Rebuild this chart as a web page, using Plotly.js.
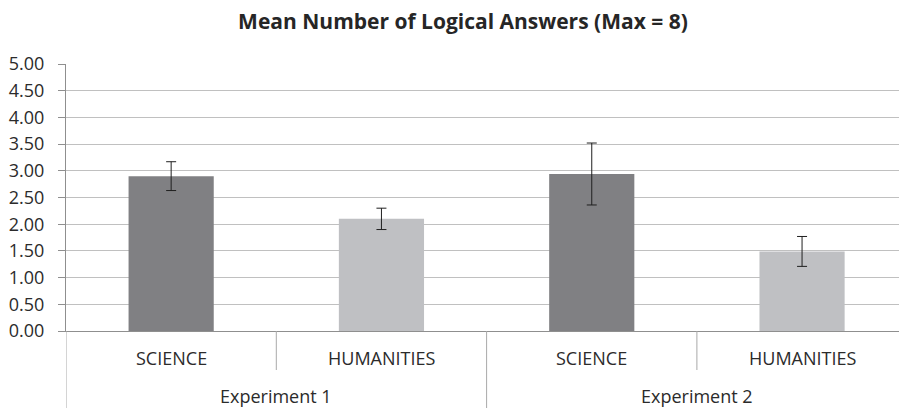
<!DOCTYPE html>
<html>
<head>
<meta charset="utf-8">
<script src="https://cdn.plot.ly/plotly-3.0.1.min.js"></script>
<style>html,body{margin:0;padding:0;background:#fff;overflow:hidden;}#chart{width:899px;height:408px;}</style>
</head>
<body>
<div id="chart"></div>
<script>
var experiments = ["Experiment 1", "Experiment 1", "Experiment 2", "Experiment 2"];
var groups = ["SCIENCE", "HUMANITIES", "SCIENCE", "HUMANITIES"];
var means = [2.90, 2.10, 2.94, 1.49];
var errors = [0.27, 0.20, 0.58, 0.28];
var barColors = ["#808083", "#bfc0c3", "#808083", "#bfc0c3"];
var yTicks = [0, 0.5, 1, 1.5, 2, 2.5, 3, 3.5, 4, 4.5, 5];
var yTickLabels = ["0.00","0.50","1.00","1.50","2.00","2.50","3.00","3.50","4.00","4.50","5.00"];

var xKeys = experiments.map(function (e, i) { return e + " | " + groups[i]; });

var trace = {
  type: "bar",
  x: xKeys,
  y: means,
  width: 0.405,
  marker: {color: barColors},
  error_y: {type: "data", array: errors, visible: true, color: "#1f1f1f", thickness: 1, width: 5},
  hoverinfo: "skip"
};

var FONT = "'Open Sans', 'Noto Sans', sans-serif";
var plotH = 267;
function py(px) { return -px / plotH; }

var annotations = [];
var shapes = [];
groups.forEach(function (g, i) {
  annotations.push({xref: "x", yref: "paper", x: i, y: py(26.5), text: g, showarrow: false,
    xanchor: "center", yanchor: "middle", font: {family: FONT, size: 18, color: "#2b2b2b"}});
});
var expNames = [];
experiments.forEach(function (e) { if (expNames.indexOf(e) < 0) expNames.push(e); });
expNames.forEach(function (e) {
  var idx = [];
  experiments.forEach(function (x, i) { if (x === e) idx.push(i); });
  var c = (idx[0] + idx[idx.length - 1]) / 2;
  annotations.push({xref: "x", yref: "paper", x: c, y: py(64.5), text: e, showarrow: false,
    xanchor: "center", yanchor: "middle", font: {family: FONT, size: 18, color: "#2b2b2b"}});
  shapes.push({type: "line", xref: "x", yref: "paper", x0: idx[0] - 0.5, x1: idx[0] - 0.5,
    y0: 0, y1: py(80), line: {color: "#a9a9a9", width: 1}});
});
for (var i = 1; i < experiments.length; i++) {
  if (experiments[i] === experiments[i - 1]) {
    shapes.push({type: "line", xref: "x", yref: "paper", x0: i - 0.5, x1: i - 0.5,
      y0: 0, y1: py(39), line: {color: "#a9a9a9", width: 1}});
  }
}

var layout = {
  width: 899, height: 408,
  margin: {l: 66, r: 0, t: 64, b: 77},
  paper_bgcolor: "#ffffff", plot_bgcolor: "#ffffff",
  font: {family: FONT, color: "#2b2b2b", size: 18},
  title: {text: "<b>Mean Number of Logical Answers (Max = 8)</b>", xref: "container", x: 0.515, xanchor: "center",
    yref: "container", y: 0.946, yanchor: "middle", font: {family: FONT, size: 21, color: "#262626"}},
  showlegend: false,
  xaxis: {
    type: "category",
    range: [-0.5, 3.461],
    showgrid: false,
    showline: true, linecolor: "#8f8f8f", linewidth: 1,
    showticklabels: false, ticks: ""
  },
  yaxis: {
    range: [0, 5], tickvals: yTicks, ticktext: yTickLabels,
    showgrid: true, gridcolor: "#c0c0c0", gridwidth: 1,
    showline: true, linecolor: "#8f8f8f", linewidth: 1,
    ticks: "outside", ticklen: 7, tickcolor: "#8f8f8f",
    ticklabelstandoff: 10,
    zeroline: false,
    tickfont: {family: FONT, size: 18, color: "#2b2b2b"}
  },
  annotations: annotations,
  shapes: shapes
};

Plotly.newPlot("chart", [trace], layout, {displayModeBar: false, staticPlot: true});
</script>
</body>
</html>
